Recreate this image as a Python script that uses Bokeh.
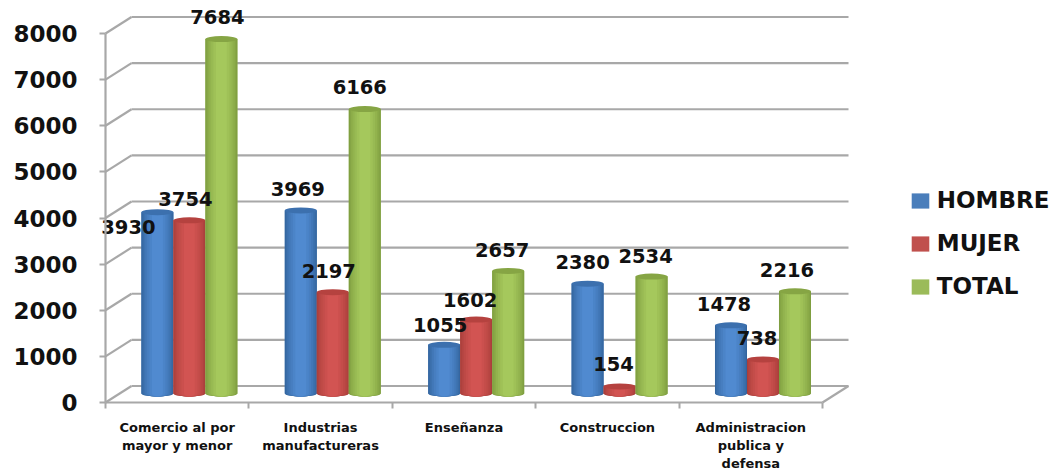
from bokeh.plotting import figure
from bokeh.embed import file_html
from bokeh.resources import INLINE
from bokeh.models import ColumnDataSource, FixedTicker, Legend, LegendItem, Range1d
from bokeh.core.properties import value

categories = ["Comercio al por\nmayor y menor", "Industrias\nmanufactureras", "Enseñanza", "Construccion",
              "Administracion\npublica y\ndefensa"]
hombre = [3930, 3969, 1055, 2380, 1478]
mujer = [3754, 2197, 1602, 154, 738]
total = [7684, 6166, 2657, 2534, 2216]
y_ticks = [0, 1000, 2000, 3000, 4000, 5000, 6000, 7000, 8000]

# style / placement of the labels, px relative to each bar top
hombre_dx, hombre_dy = [-29, -3, -4, -5, -7], [15, -21, -20, -22, -21]
mujer_dx, mujer_dy = [-4, -4, -6, -6, -6], [-21, -21, -20, -22, -21]
total_dx, total_dy = [-4, -5, -6, -6, -8], [-22, -22, -21, -21, -21]

W, H = 1054, 474
LEFT, BASE = 105, 402
PX_X = 143.4
PX_Y = 369 / 8000
DEPTH_X = 26 / PX_X
DEPTH_Y = 16.5 / PX_Y
FLOOR = 9 / PX_Y
BAR_W = 32 / PX_X
GREY = "#a8a8a8"

p = figure(width=W, height=H, output_backend="svg", toolbar_location=None,
           x_range=Range1d(-LEFT / PX_X, (W - LEFT) / PX_X),
           y_range=Range1d(-(H - BASE) / PX_Y, BASE / PX_Y),
           min_border_left=0, min_border_right=0, min_border_top=0, min_border_bottom=0,
           outline_line_color=None, background_fill_color="white", border_fill_color="white")
p.grid.visible = False

n = len(categories)
# walls
xr = [DEPTH_X + n] * len(y_ticks)
p.segment([DEPTH_X] * len(y_ticks), [t + DEPTH_Y for t in y_ticks], xr, [t + DEPTH_Y for t in y_ticks],
          line_color=GREY, line_width=2.2)
p.segment([0] * len(y_ticks), y_ticks, [DEPTH_X] * len(y_ticks), [t + DEPTH_Y for t in y_ticks],
          line_color=GREY, line_width=2.2)
p.segment([n], [0], [n + DEPTH_X], [DEPTH_Y], line_color=GREY, line_width=2.2)


def mix(a, b, t):
    ca = [int(a[i:i + 2], 16) for i in (1, 3, 5)]
    cb = [int(b[i:i + 2], 16) for i in (1, 3, 5)]
    return "#%02x%02x%02x" % tuple(round(x + (y - x) * t) for x, y in zip(ca, cb))


series = [
    ("HOMBRE", hombre, -1, "#4a7ebb", "#34669f", "#508ad0", "#3c70ae", hombre_dx, hombre_dy),
    ("MUJER", mujer, 0, "#c0504d", "#a93f3b", "#d25452", "#b5423f", mujer_dx, mujer_dy),
    ("TOTAL", total, 1, "#9bbb59", "#7f9e40", "#a5c85c", "#86a544", total_dx, total_dy),
]
layers = [1.0, 0.94, 0.86, 0.76, 0.64, 0.5, 0.34]
items = []
for name, vals, off, swatch, edge, centre, top_c, dx, dy in series:
    xs = [i + 0.585 + off * BAR_W for i in range(n)]
    tops = [v + FLOOR for v in vals]
    src = ColumnDataSource(dict(x=xs, top=tops, bottom=[FLOOR] * n))
    r = p.vbar(x="x", top="top", bottom="bottom", width=BAR_W, source=src, fill_color=swatch, line_color=None)
    items.append(LegendItem(label=name, renderers=[r]))
    for k, f in enumerate(layers):
        col = mix(edge, centre, k / (len(layers) - 1))
        p.ellipse(x="x", y="bottom", width=BAR_W * f, height=6 / PX_Y, source=src, fill_color=col, line_color=None)
        p.vbar(x="x", top="top", bottom="bottom", width=BAR_W * f, source=src, fill_color=col, line_color=None)
    p.ellipse(x="x", y="top", width=BAR_W, height=6 / PX_Y, source=src, fill_color=top_c, line_color=None)

for name, vals, off, swatch, edge, centre, top_c, dx, dy in series:
    xs = [i + 0.585 + off * BAR_W for i in range(n)]
    src = ColumnDataSource(dict(x=xs, y=[v + FLOOR for v in vals], t=[str(v) for v in vals], dx=dx, dy=dy))
    p.text(x="x", y="y", text="t", x_offset="dx", y_offset="dy", source=src, text_align="center",
           text_baseline="middle", text_color="#111111", text_font=value("DejaVu Sans"),
           text_font_style="bold", text_font_size="19.5px")

# y axis
ya = p.yaxis[0]
ya.fixed_location = 0
ya.ticker = FixedTicker(ticks=y_ticks)
ya.bounds = (0, 8000)
ya.axis_line_color = GREY
ya.axis_line_width = 2.2
ya.major_tick_line_color = GREY
ya.major_tick_line_width = 2
ya.major_tick_out = 6
ya.major_tick_in = 0
ya.minor_tick_line_color = None
ya.major_label_standoff = 22
ya.major_label_text_font = "DejaVu Sans"
ya.major_label_text_font_style = "bold"
ya.major_label_text_font_size = "23px"
ya.major_label_text_color = "#111111"

# x axis
xa = p.xaxis[0]
xa.fixed_location = 0
centres = [i + 0.5 for i in range(n)]
xa.ticker = FixedTicker(ticks=centres, minor_ticks=list(range(n + 1)))
xa.major_label_overrides = {c: categories[i] for i, c in enumerate(centres)}
xa.bounds = (0, n)
xa.axis_line_color = GREY
xa.axis_line_width = 2.2
xa.major_tick_line_color = None
xa.major_tick_out = 0
xa.major_tick_in = 0
xa.minor_tick_line_color = GREY
xa.minor_tick_line_width = 2
xa.minor_tick_out = 6
xa.minor_tick_in = 0
xa.major_label_standoff = 11
xa.major_label_orientation = "horizontal"
xa.major_label_text_font = "DejaVu Sans"
xa.major_label_text_font_style = "bold"
xa.major_label_text_font_size = "13px"
xa.major_label_text_color = "#111111"

legend = Legend(items=items, location=(908.75, 175), orientation="vertical", padding=0, margin=0,
                spacing=17, glyph_width=22, glyph_height=19, label_standoff=6,
                border_line_color=None, background_fill_alpha=0,
                label_text_font="DejaVu Sans", label_text_font_style="bold",
                label_text_font_size="23px", label_text_color="#111111")
p.add_layout(legend)

open("out.html", "w").write(file_html(p, INLINE))
